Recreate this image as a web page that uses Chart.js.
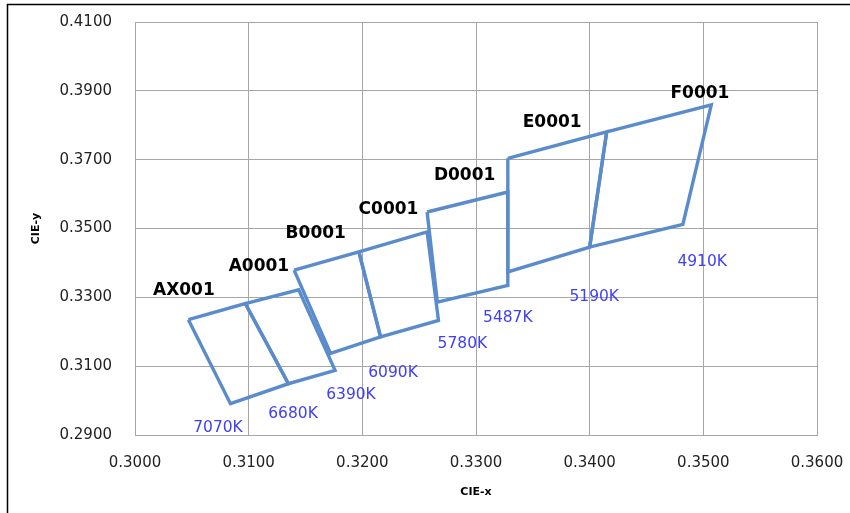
<!DOCTYPE html>
<html lang="en">
<head>
    <meta charset="UTF-8">
    <title>CIE bins</title>
    <script src="https://cdn.jsdelivr.net/npm/chart.js"></script>
    <style>
        html, body { margin: 0; padding: 0; background: #fff; }
        #wrap { position: relative; width: 850px; height: 513px; }
    </style>
</head>
<body>
    <div id="wrap"><canvas id="cieChart"></canvas></div>

    <script>
        // bin names and the colour temperature of each bin edge
        const binNames = ["AX001", "A0001", "B0001", "C0001", "D0001", "E0001", "F0001"];
        const cctNames = ["7070K", "6680K", "6390K", "6090K", "5780K", "5487K", "5190K", "4910K"];

        // quadrangle corners of each bin: top-left, top-right, bottom-right, bottom-left
        const binX = [
            [0.3047, 0.3097, 0.3135, 0.3084],
            [0.3097, 0.3144, 0.3176, 0.3135],
            [0.3140, 0.3197, 0.3216, 0.3172],
            [0.3197, 0.3257, 0.3267, 0.3216],
            [0.3257, 0.3328, 0.3328, 0.3266],
            [0.3328, 0.3415, 0.3400, 0.3328],
            [0.3415, 0.3507, 0.3482, 0.3400]
        ];
        const binY = [
            [0.3235, 0.3282, 0.3049, 0.2991],
            [0.3282, 0.3322, 0.3088, 0.3049],
            [0.3379, 0.3432, 0.3185, 0.3137],
            [0.3432, 0.3490, 0.3233, 0.3185],
            [0.3548, 0.3606, 0.3335, 0.3286],
            [0.3704, 0.3781, 0.3446, 0.3374],
            [0.3781, 0.3859, 0.3512, 0.3446]
        ];

        // where the bin name labels sit
        const binLabelX = [0.3043, 0.3109, 0.3159, 0.3223, 0.3290, 0.3367, 0.3497];
        const binLabelY = [0.3320, 0.3388, 0.3485, 0.3555, 0.3655, 0.3808, 0.3893];
        // where the CCT labels sit
        const cctLabelX = [0.3073, 0.3139, 0.3190, 0.3227, 0.3288, 0.3328, 0.3404, 0.3499];
        const cctLabelY = [0.2919, 0.2962, 0.3015, 0.3080, 0.3165, 0.3240, 0.3301, 0.3403];

        const xTicks = [0.30, 0.31, 0.32, 0.33, 0.34, 0.35, 0.36];
        const yTicks = [0.29, 0.31, 0.33, 0.35, 0.37, 0.39, 0.41];

        const datasets = binNames.map((name, i) => {
            const pts = binX[i].map((x, j) => ({ x: x, y: binY[i][j] }));
            pts.push(pts[0]);
            return {
                label: name,
                data: pts,
                showLine: true,
                borderColor: "#5A8CCB",
                borderWidth: 3.4,
                borderJoinStyle: "miter",
                pointRadius: 0,
                pointHoverRadius: 0,
                tension: 0
            };
        });

        const labelPlugin = {
            id: "pointLabels",
            afterDatasetsDraw(chart) {
                const ctx = chart.ctx;
                const sx = chart.scales.x, sy = chart.scales.y;
                ctx.save();
                ctx.textAlign = "center";
                ctx.textBaseline = "middle";
                ctx.font = "bold 17px 'DejaVu Sans'";
                ctx.fillStyle = "#000";
                binNames.forEach((t, i) => {
                    ctx.fillText(t, sx.getPixelForValue(binLabelX[i]), sy.getPixelForValue(binLabelY[i]));
                });
                ctx.font = "15.5px 'DejaVu Sans'";
                ctx.fillStyle = "#3F3FFA";
                cctNames.forEach((t, i) => {
                    ctx.fillText(t, sx.getPixelForValue(cctLabelX[i]), sy.getPixelForValue(cctLabelY[i]));
                });
                ctx.restore();
            }
        };

        const framePlugin = {
            id: "frame",
            afterDraw(chart) {
                const ctx = chart.ctx;
                ctx.save();
                ctx.strokeStyle = "#000";
                ctx.lineWidth = 1.5;
                ctx.beginPath();
                ctx.moveTo(7.5, 513);
                ctx.lineTo(7.5, 4.5);
                ctx.lineTo(850, 4.5);
                ctx.stroke();
                ctx.restore();
            }
        };

        new Chart(document.getElementById("cieChart"), {
            type: "scatter",
            data: { datasets: datasets },
            options: {
                responsive: true,
                maintainAspectRatio: false,
                animation: false,
                layout: { padding: { left: 0, top: 22, right: 33, bottom: 0 } },
                plugins: {
                    legend: { display: false },
                    tooltip: { enabled: false }
                },
                scales: {
                    x: {
                        type: "linear",
                        min: xTicks[0],
                        max: xTicks[xTicks.length - 1],
                        afterBuildTicks: (s) => { s.ticks = xTicks.map(v => ({ value: v })); },
                        afterFit: (s) => { s.height = 78; s.paddingLeft = 0; s.paddingRight = 0; },
                        ticks: {
                            padding: 19,
                            color: "#222",
                            font: { family: "DejaVu Sans", size: 15 },
                            callback: (v) => v.toFixed(4)
                        },
                        grid: { color: "#A6A6A6", lineWidth: 1, drawTicks: false },
                        border: { color: "#A6A6A6" },
                        title: {
                            display: true,
                            text: "CIE-x",
                            color: "#000",
                            font: { family: "DejaVu Sans", size: 11, weight: "bold" },
                            padding: { top: 0, bottom: 14 }
                        }
                    },
                    y: {
                        type: "linear",
                        min: yTicks[0],
                        max: yTicks[yTicks.length - 1],
                        afterBuildTicks: (s) => { s.ticks = yTicks.map(v => ({ value: v })); },
                        afterFit: (s) => { s.width = 135; s.paddingTop = 0; s.paddingBottom = 0; },
                        ticks: {
                            padding: 23,
                            color: "#222",
                            font: { family: "DejaVu Sans", size: 15 },
                            callback: (v) => v.toFixed(4)
                        },
                        grid: { color: "#A6A6A6", lineWidth: 1, drawTicks: false },
                        border: { color: "#A6A6A6" },
                        title: {
                            display: true,
                            text: "CIE-y",
                            color: "#000",
                            font: { family: "DejaVu Sans", size: 11, weight: "bold" },
                            padding: { top: 30, bottom: 0 }
                        }
                    }
                }
            },
            plugins: [labelPlugin, framePlugin]
        });
    </script>
</body>
</html>
